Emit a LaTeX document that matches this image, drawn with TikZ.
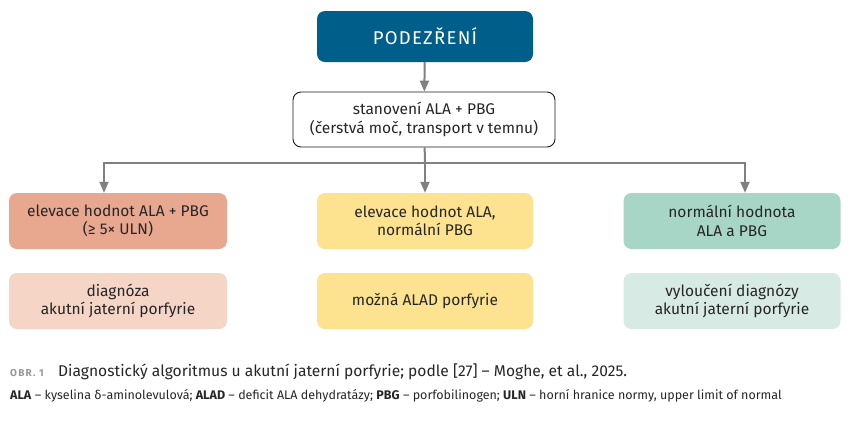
\documentclass[tikz,border=0pt]{standalone}
\usepackage{fontspec}
\setmainfont{Fira Sans}
\usetikzlibrary{arrows.meta,positioning,calc}
\definecolor{podblue}{RGB}{0,94,138}
\definecolor{arrowgray}{RGB}{128,128,128}
\definecolor{redstrong}{RGB}{232,167,143}
\definecolor{redlight}{RGB}{244,213,198}
\definecolor{yellowbox}{RGB}{253,227,143}
\definecolor{greenstrong}{RGB}{167,214,198}
\definecolor{greenlight}{RGB}{215,235,228}
\definecolor{captiongray}{RGB}{150,150,150}
\tikzset{box/.style={rounded corners=8pt,align=center,font=\fontsize{15.5}{18.5}\selectfont,text=black!85,minimum width=218pt,minimum height=56pt,inner sep=4pt},top/.style={box,fill=podblue,text=white,font=\fontsize{18.5}{20}\selectfont\addfontfeatures{LetterSpace=7},minimum width=216pt,minimum height=51pt},test/.style={box,draw=black!90,line width=0.9pt,minimum width=262pt,minimum height=55pt},edge/.style={-{Triangle[length=11pt,width=9pt]},arrowgray,line width=2pt},line/.style={arrowgray,line width=2pt}}

\begin{document}
\begin{tikzpicture}[x=1pt,y=-1pt]
\useasboundingbox (0,0) rectangle (854,424);
\node[top] (podezreni) at (425,36.5) {PODEZŘENÍ};
\node[test] (stanoveni) at (424,119.5) {stanovení ALA + PBG\\(čerstvá moč, transport v temnu)};
\node[box,fill=redstrong] (elevboth) at (118,221) {elevace hodnot ALA + PBG\\(≥ 5× ULN)};
\node[box,fill=yellowbox,minimum width=216pt] (elevala) at (425,221) {elevace hodnot ALA,\\normální PBG};
\node[box,fill=greenstrong,minimum width=217pt] (normal) at (732,221) {normální hodnota\\ALA a PBG};
\node[box,fill=redlight] (diagnoza) at (118,301) {diagnóza\\akutní jaterní porfyrie};
\node[box,fill=yellowbox,minimum width=216pt] (alad) at (425,301) {možná ALAD porfyrie};
\node[box,fill=greenlight,minimum width=217pt] (vylouceni) at (732,301) {vyloučení diagnózy\\akutní jaterní porfyrie};
\coordinate (branch) at (425,163);
\draw[edge] (podezreni) -- (stanoveni);
\draw[line] (stanoveni) -- (branch);
\draw[edge] (branch) -| ([xshift=-14pt]elevboth.north);
\draw[edge] (branch) -- (elevala);
\draw[edge] (branch) -| ([xshift=13pt]normal.north);
% caption
\node[anchor=west,inner sep=0pt,text=captiongray,font=\fontsize{10}{12}\selectfont\bfseries\addfontfeatures{LetterSpace=12}] (obr) at (10,373) {OBR. 1};
\node[anchor=west,inner sep=0pt,font=\fontsize{15.6}{18}\selectfont,text=black!85] (caption) at (58,372) {Diagnostický algoritmus u akutní jaterní porfyrie; podle [27] – Moghe, et al., 2025.};
\node[anchor=west,inner sep=0pt,font=\fontsize{12.5}{14}\selectfont,text=black!85] (legend) at (10,396) {\textbf{ALA} – kyselina δ-aminolevulová; \textbf{ALAD} – deficit ALA dehydratázy; \textbf{PBG} – porfobilinogen; \textbf{ULN} – horní hranice normy, upper limit of normal};
\end{tikzpicture}
\end{document}
